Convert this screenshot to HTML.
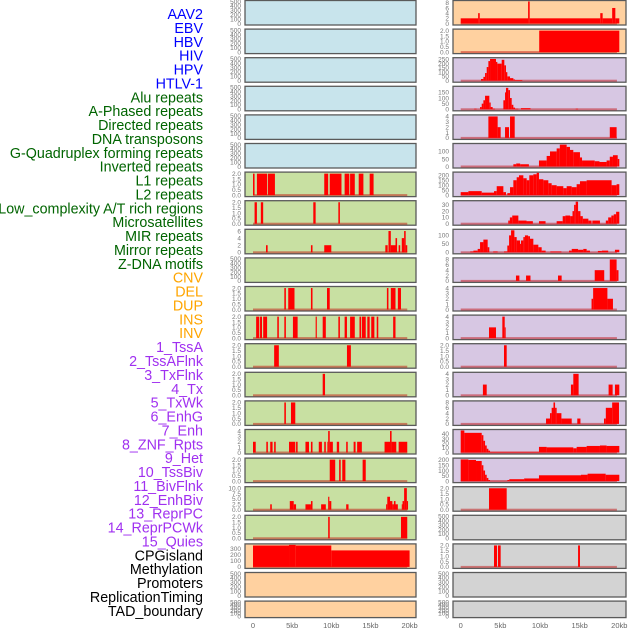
<!DOCTYPE html>
<html><head><meta charset="utf-8">
<style>
html,body{margin:0;padding:0;background:#fff;width:630px;height:630px;overflow:hidden}
svg{display:block}
.lab{font-family:"Liberation Sans",sans-serif;font-size:14.3px}
.tk{font-family:"Liberation Sans",sans-serif;font-size:6.5px;fill:#777}
.xt{font-family:"Liberation Sans",sans-serif;font-size:7.5px;fill:#666}
</style></head>
<body>
<svg id="chart" width="630" height="630" viewBox="0 0 630 630" xmlns="http://www.w3.org/2000/svg"></svg>
<script>
// ---- categories ----
const labels = ["AAV2","EBV","HBV","HIV","HPV","HTLV-1","Alu repeats","A-Phased repeats","Directed repeats","DNA transposons","G-Quadruplex forming repeats","Inverted repeats","L1 repeats","L2 repeats","Low_complexity A/T rich regions","Microsatellites","MIR repeats","Mirror repeats","Z-DNA motifs","CNV","DEL","DUP","INS","INV","1_TssA","2_TssAFlnk","3_TxFlnk","4_Tx","5_TxWk","6_EnhG","7_Enh","8_ZNF_Rpts","9_Het","10_TssBiv","11_BivFlnk","12_EnhBiv","13_ReprPC","14_ReprPCWk","15_Quies","CPGisland","Methylation","Promoters","ReplicationTiming","TAD_boundary"];
const labelColors = ["#0000ff","#0000ff","#0000ff","#0000ff","#0000ff","#0000ff","#006400","#006400","#006400","#006400","#006400","#006400","#006400","#006400","#006400","#006400","#006400","#006400","#006400","#ffa500","#ffa500","#ffa500","#ffa500","#ffa500","#a030f0","#a030f0","#a030f0","#a030f0","#a030f0","#a030f0","#a030f0","#a030f0","#a030f0","#a030f0","#a030f0","#a030f0","#a030f0","#a030f0","#a030f0","#000","#000","#000","#000","#000"];
const xTicks = [0,5,10,15,20];
const xTickLabels = ["0","5kb","10kb","15kb","20kb"];

// ---- series values: segments [startKb, endKb, value] ----
const alu = [[0,0.2,2],[0.5,1.8,2],[1.9,2.8,2],[9.1,9.6,2],[9.8,11.3,2],[11.7,12.3,2],[12.4,13.0,2],[13.5,14.1,2],[14.9,15.4,2]];
const aPhased = [[0.2,0.5,2],[1.0,1.3,2],[7.7,8.0,2],[10.9,11.1,2]];
const directed = [[1.66,1.87,2],[7.4,7.6,2],[9.1,10.0,2],[16.9,17.2,2],[17.3,17.6,6],[17.6,18.2,2],[18.2,18.4,4],[18.6,18.8,2],[19.0,19.3,4],[19.3,19.5,6],[19.5,19.7,2]];
const gQuad = [[4.0,4.2,2],[4.5,5.3,2],[7.4,7.6,2],[9.45,9.8,2],[17.1,17.3,2],[17.6,18.2,2],[18.5,18.9,2]];
const inverted = [[0.4,0.8,2],[0.9,1.15,2],[1.3,1.8,2],[3.1,3.3,2],[4.0,4.2,2],[5.1,5.7,2],[8.0,8.15,2],[8.9,9.3,2],[10.9,11.1,2],[11.7,12.0,2],[12.4,13.0,2],[13.6,13.8,2],[13.9,14.4,2],[14.6,14.9,2],[15.1,15.5,2],[15.8,16.0,2],[17.9,18.2,2]];
const l1 = [[2.7,3.3,2],[12.0,12.5,2]];
const l2 = [[8.9,9.2,2]];
const lowComplex = [[4.0,4.2,2],[4.85,5.4,2]];
const microsat = [[0,0.35,2],[1.7,1.9,2],[2.2,2.5,2],[2.7,2.9,2],[4.6,5.4,2],[5.5,5.7,2],[6.7,7.15,2],[7.4,7.6,2],[8.4,8.8,2],[9.1,9.3,2],[9.5,9.6,2],[9.6,9.8,4],[9.8,10.2,2],[10.7,11.0,2],[11.9,12.1,2],[12.85,13.1,2],[13.3,13.9,2],[16.8,17.5,2],[17.5,17.7,4],[17.7,18.3,2],[18.6,19.7,2]];
const mir = [[9.8,10.5,2],[11.0,11.2,2],[11.4,11.8,2],[14.0,14.4,2]];
const mirror = [[2.2,2.4,2.5],[4.7,5.2,4],[5.2,5.5,2.5],[6.7,7.4,2.5],[7.4,7.6,4],[8.7,9.3,2.5],[9.6,9.75,6],[9.75,10.0,4],[11.9,12.2,2.5],[17.0,17.15,2.5],[17.15,17.5,6],[17.5,17.8,4],[17.8,18.0,2.5],[18.0,18.2,4],[18.2,18.5,2.5],[19.0,19.1,2.5],[19.1,19.3,4],[19.3,19.65,10],[19.65,19.8,4]];
const zdna = [[9.6,9.8,2],[18.9,19.7,2]];
const cnv = [[0,4.6,350],[4.6,5.45,360],[5.45,10.0,350],[10.0,20.0,270]];
const ins = [[0,2.2,2],[2.2,2.4,4],[2.4,8.5,2],[8.5,8.7,8.5],[8.7,17.6,2],[17.6,17.9,4],[17.9,19.1,2],[19.1,19.5,6],[19.5,20.0,2]];
const inv = [[9.9,20.0,2]];
const tssA = [[2.56,2.86,20],[2.86,3.07,45],[3.07,3.28,90],[3.28,3.49,160],[3.49,3.7,230],[3.7,4.45,255],[4.45,4.62,220],[4.62,5.17,200],[5.17,5.5,245],[5.5,5.71,180],[5.71,5.88,100],[5.88,6.22,50],[6.22,6.64,30],[6.64,6.85,15],[6.85,7.77,8]];
const tssAFlnk = [[1.7,2.0,5],[2.44,2.65,20],[2.65,2.86,50],[2.86,3.07,80],[3.07,3.61,120],[3.61,3.78,60],[3.78,4.03,20],[4.03,4.33,5],[5.38,5.59,80],[5.59,5.71,150],[5.71,6.0,190],[6.0,6.22,170],[6.22,6.43,100],[6.43,6.64,40],[6.64,6.85,15],[6.85,7.27,5],[7.6,8.8,10],[14.5,14.8,5]];
const txFlnk = [[3.49,4.66,4],[4.66,5.04,2],[5.59,6.09,2],[6.22,6.81,4],[18.8,19.66,2]];
const tx = [[6.64,7.0,15],[7.0,7.5,20],[7.5,8.6,15],[9.87,10.84,40],[10.84,11.26,70],[11.26,12.1,100],[12.1,12.5,120],[12.5,13.36,145],[13.36,13.78,130],[13.78,14.2,110],[14.2,15.04,95],[15.04,15.3,60],[15.3,16.9,40],[16.9,17.5,35],[17.5,18.4,30],[18.4,18.8,40],[18.8,19.2,65],[19.2,19.8,75],[19.8,20.0,50]];
const txWk = [[0,0.97,30],[0.97,2.65,40],[2.65,4.2,25],[4.2,4.54,40],[4.54,5.38,90],[5.38,5.71,30],[5.88,6.22,20],[6.22,6.64,80],[6.64,7.06,150],[7.06,7.35,180],[7.35,7.9,200],[7.9,8.32,170],[8.32,8.65,150],[8.65,9.16,200],[9.16,9.58,210],[9.58,9.87,225],[9.87,10.42,160],[10.42,11.05,150],[11.05,11.47,120],[11.47,12.1,100],[12.1,12.94,90],[12.94,13.36,70],[13.36,13.99,90],[13.99,14.62,80],[14.62,15.04,110],[15.04,15.88,140],[15.88,19.03,150],[19.03,19.66,100],[19.66,20.0,110]];
const enhG = [[6.0,6.2,5],[6.2,6.5,10],[6.5,7.27,13],[7.27,8.3,5],[8.3,9.1,4],[9.87,10.7,4],[12.1,12.86,4],[12.86,13.2,12],[13.2,13.8,13],[13.8,14.1,12],[14.1,14.3,20],[14.3,14.5,30],[14.5,14.8,35],[14.8,15.1,20],[15.1,15.4,12],[15.4,16.1,8],[16.1,16.5,5],[16.6,17.56,5],[18.3,18.6,5],[18.6,19.0,10],[19.0,19.3,13],[19.3,19.6,15],[19.6,20.0,19]];
const enh = [[1.2,1.6,5],[1.6,2.14,10],[2.14,2.44,20],[2.44,2.86,60],[2.86,3.4,75],[3.4,3.61,30],[4.1,4.66,5],[5.46,5.88,5],[5.88,6.1,40],[6.1,6.35,100],[6.35,6.77,130],[6.77,7.06,90],[7.06,7.48,70],[7.48,7.6,50],[7.6,7.9,70],[7.9,8.1,90],[8.1,8.5,100],[8.5,8.74,95],[8.74,9.16,80],[9.16,9.79,45],[9.79,10.21,30],[10.21,10.71,10],[11.3,12.7,5],[13.66,14.0,10],[14.0,14.8,20],[14.8,15.46,15],[15.46,15.88,20],[15.88,16.3,10],[17.3,17.8,8],[17.8,18.6,10],[19.45,20.0,15]];
const znf = [[6.97,7.4,2],[8.24,8.8,2],[12.27,12.73,2],[16.9,18.1,4],[18.8,19.66,8],[19.66,19.9,4]];
const het = [[16.5,16.7,2],[16.7,18.5,4],[18.5,19.2,2]];
const tssBiv = [[3.57,4.45,2],[5.25,5.55,4],[5.55,5.67,2]];
const bivFlnk = [[5.46,5.8,2]];
const enhBiv = [[2.8,3.28,2],[13.9,14.2,2],[14.2,14.87,4],[18.65,19.16,2],[19.45,20.0,2]];
const reprPC = [[10.76,11.26,2],[11.26,11.47,4],[11.47,11.7,6],[11.7,11.9,8],[11.9,12.1,6],[12.1,12.7,4],[12.7,14.0,2],[14.7,15.1,2],[18.07,18.3,2],[18.3,19.1,6],[19.1,19.96,8]];
const reprPCWk = [[0,0.46,47],[0.46,2.65,42],[2.65,2.86,37],[2.86,3.07,25],[3.07,3.28,15],[3.28,3.49,8],[3.49,3.7,4],[3.7,9.87,1.5],[9.87,10.84,12],[10.84,14.2,11],[14.2,14.62,9],[14.62,15.88,12],[15.88,17.56,14],[17.56,18.4,15],[18.4,20.0,14]];
const quies = [[0,0.97,205],[0.97,1.93,200],[1.93,2.65,190],[2.65,2.86,150],[2.86,3.07,100],[3.07,3.28,60],[3.28,3.49,30],[3.49,3.7,10],[3.7,5.88,2],[5.88,6.13,10],[6.13,8.0,18],[8.0,9.87,25],[9.87,15.17,55],[15.17,16.0,60],[16.0,18.28,70],[18.28,20.0,60]];
const cpg = [[3.57,5.8,2]];
const promoters = [[4.2,4.58,2],[4.7,5.04,2],[14.8,15.04,2]];
const empty = [];

// ---- tick label arrays ----
const tEmpty = [0,100,200,300,400,500];
const t2 = [0,0.5,1.0,1.5,2.0];
const t6 = [0,2,4,6];
const t4 = [0,1,2,3,4];
const t8 = [0,2,4,6,8];
const t10 = [0,2.5,5.0,7.5,10.0];
const tCnv = [0,100,200,300];
const tTssA = [0,50,100,150,200,250];
const tFl = [0,50,100,150];
const tTx = [0,50,100];
const tTxWk = [0,50,100,150,200];
const tEnhG = [0,10,20,30];
const tPCWk = [0,10,20,30,40];

const BG = {blue:"#c8e4ec",green:"#c8e0a2",peach:"#ffd1a0",purple:"#d7c7e3",grey:"#d3d3d3"};
// panels: [col,row,bg,data,yMax,ticks,name,decimals]
const panels = [
 [0,0,"blue",empty,500,tEmpty,"aav2",0],[0,1,"blue",empty,500,tEmpty,"ebv",0],[0,2,"blue",empty,500,tEmpty,"hbv",0],
 [0,3,"blue",empty,500,tEmpty,"hiv",0],[0,4,"blue",empty,500,tEmpty,"hpv",0],[0,5,"blue",empty,500,tEmpty,"htlv-1",0],
 [0,6,"green",alu,2.05,t2,"alu-repeats",1],[0,7,"green",aPhased,2.05,t2,"a-phased-repeats",1],[0,8,"green",directed,6.2,t6,"directed-repeats",0],
 [0,9,"green",empty,500,tEmpty,"dna-transposons",0],[0,10,"green",gQuad,2.05,t2,"g-quadruplex",1],[0,11,"green",inverted,2.05,t2,"inverted-repeats",1],
 [0,12,"green",l1,2.05,t2,"l1-repeats",1],[0,13,"green",l2,2.05,t2,"l2-repeats",1],[0,14,"green",lowComplex,2.05,t2,"low-complexity",1],
 [0,15,"green",microsat,4.1,t4,"microsatellites",0],[0,16,"green",mir,2.05,t2,"mir-repeats",1],[0,17,"green",mirror,10.2,t10,"mirror-repeats",1],
 [0,18,"green",zdna,2.05,t2,"z-dna-motifs",1],[0,19,"peach",cnv,360,tCnv,"cnv",0],[0,20,"peach",empty,500,tEmpty,"del",0],[0,21,"peach",empty,500,tEmpty,"dup",0],
 [1,0,"peach",ins,8.5,t8,"ins",0],[1,1,"peach",inv,2.05,t2,"inv",1],[1,2,"purple",tssA,258,tTssA,"tssa",0],
 [1,3,"purple",tssAFlnk,195,tFl,"tssaflnk",0],[1,4,"purple",txFlnk,4.1,t4,"txflnk",0],[1,5,"purple",tx,146,tTx,"tx",0],
 [1,6,"purple",txWk,222,tTxWk,"txwk",0],[1,7,"purple",enhG,35,tEnhG,"enhg",0],[1,8,"purple",enh,130,tTx,"enh",0],
 [1,9,"purple",znf,8.2,t8,"znf-rpts",0],[1,10,"purple",het,4.1,t4,"het",0],[1,11,"purple",tssBiv,4.1,t4,"tssbiv",0],
 [1,12,"purple",bivFlnk,2.05,t2,"bivflnk",1],[1,13,"purple",enhBiv,4.1,t4,"enhbiv",0],[1,14,"purple",reprPC,8.2,t8,"reprpc",0],
 [1,15,"purple",reprPCWk,47,tPCWk,"reprpcwk",0],[1,16,"purple",quies,208,tTxWk,"quies",0],
 [1,17,"grey",cpg,2.05,t2,"cpgisland",1],[1,18,"grey",empty,500,tEmpty,"methylation",0],[1,19,"grey",promoters,2.05,t2,"promoters",1],
 [1,20,"grey",empty,500,tEmpty,"replication-timing",0],[1,21,"grey",empty,500,tEmpty,"tad-boundary",0]
];

const NS = "http://www.w3.org/2000/svg";
const svg = document.getElementById("chart");
function mk(tag, attrs, parent){const e=document.createElementNS(NS,tag);for(const k in attrs)e.setAttribute(k,attrs[k]);(parent||svg).appendChild(e);return e;}

// labels
const labG = mk("g",{});


labels.forEach((t,i)=>{
  const e = mk("text",{x:203,y:14+i*13.88+5,"text-anchor":"end",fill:labelColors[i],class:"lab"},labG);
  
  
  e.textContent=t;
});

const COLS = [{x0:245,x1:416,z:253,k:7.83,tx:241},{x0:453,x1:626,z:460.7,k:7.93,tx:449}];
function rowTop(r){return 0.5+r*28.6;}
function rowH(r){return r===21?16.5:24.5;}

panels.forEach(p=>{
  const [c,r,bg,data,yMax,ticks,name,dec]=p;
  const C=COLS[c], top=rowTop(r), h=rowH(r);
  const xs = kb=>C.z+kb*C.k;
  const y0 = top+h-1.5, span=h-2.5;
  const ys = v=>y0-(v/yMax)*span;
  const g = mk("g",{});
  
  
  const bgr = mk("rect",{x:C.x0,y:top,width:C.x1-C.x0,height:h,fill:BG[bg],stroke:"#5a5a5a","stroke-width":1.3},g);
  
  
  if(data.length){
    const bl = mk("rect",{x:xs(0),y:y0-1,width:xs(19.7)-xs(0),height:2,fill:"rgba(190,0,0,0.45)"},g);
    
    
  }
  data.forEach(s=>{
    const yt=ys(s[2]);
    const b = mk("rect",{x:xs(s[0]),y:yt,width:Math.max(0.8,xs(s[1])-xs(s[0])),height:y0-yt,fill:"#ff0000"},g);
    
    
  });
  ticks.forEach(t=>{
    const e = mk("text",{x:C.tx,y:ys(t)+2.3,"text-anchor":"end",class:"tk"},g);
    
    
    e.textContent = dec? t.toFixed(1) : String(t);
  });
});

// x axis tick labels
COLS.forEach((C,ci)=>{
  xTicks.forEach((t,i)=>{
    const e = mk("text",{x:C.z+t*C.k,y:628,"text-anchor":"middle",class:"xt"});
    
    
    e.textContent=xTickLabels[i];
  });
});
</script>
</body></html>
